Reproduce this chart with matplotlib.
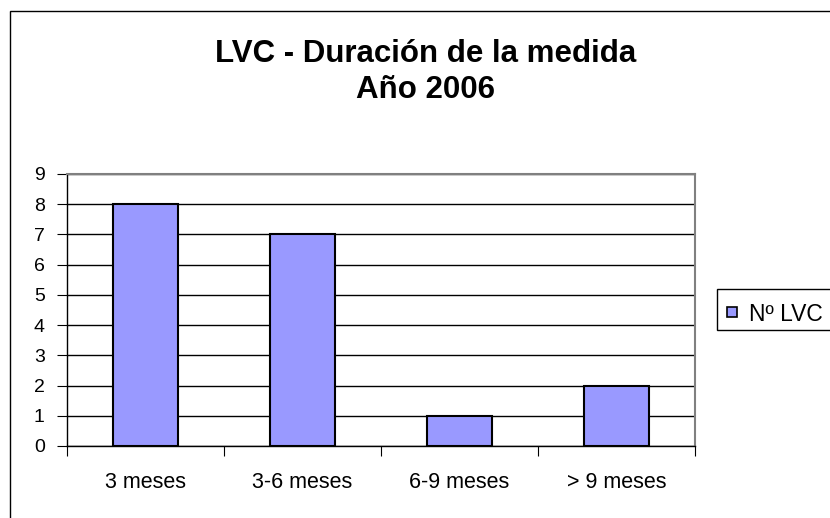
import matplotlib
matplotlib.use("Agg")
import matplotlib.pyplot as plt
from matplotlib.patches import Rectangle

categories = ["3 meses", "3-6 meses", "6-9 meses", "> 9 meses"]
values = [8, 7, 1, 2]
yticks = list(range(0, 10))
series_name = "Nº LVC"
title_lines = ["LVC - Duración de la medida", "Año 2006"]

plt.rcParams['font.family'] = ['Liberation Sans', 'DejaVu Sans']

W, H = 830, 518
fig = plt.figure(figsize=(W / 100, H / 100), dpi=100)
fig.patch.set_facecolor('white')

def fx(px):
    return px / W

def fy(py):
    return 1 - py / H

# outer chart frame
fig.patches.append(Rectangle((fx(10), -0.1), 2, fy(11) + 0.1, transform=fig.transFigure,
                             fill=False, edgecolor='black', linewidth=1.0))

ax = fig.add_axes([fx(67), fy(446), 628 / W, 272 / H])
x = list(range(len(categories)))
bars = ax.bar(x, values, width=0.41, color='#9999FF', edgecolor='black', linewidth=1.5,
              label=series_name, zorder=3)
ax.set_xlim(-0.5, len(categories) - 0.5)
ax.set_ylim(0, 9)
ax.set_yticks(yticks)
ax.set_yticklabels([str(t) for t in yticks], fontsize=14)
ax.yaxis.grid(True, color='black', linewidth=1.0, zorder=0)
ax.set_axisbelow(True)

ax.set_xticks([i - 0.5 for i in range(len(categories) + 1)])
ax.set_xticklabels([])
ax.set_xticks(x, minor=True)
ax.set_xticklabels(categories, minor=True, fontsize=15.5)
ax.tick_params(axis='x', which='minor', length=0, pad=19)
ax.tick_params(axis='x', which='major', length=7, direction='out', color='black')
ax.tick_params(axis='y', length=7, direction='out', color='black', pad=9)

for s in ['top', 'right']:
    ax.spines[s].set_color('#808080')
    ax.spines[s].set_linewidth(1.5)
for s in ['left', 'bottom']:
    ax.spines[s].set_color('black')
    ax.spines[s].set_linewidth(1.0)

# title (two lines)
fig.text(fx(425.5), fy(62), title_lines[0], ha='center', va='baseline', fontsize=22.5,
         fontweight='bold')
fig.text(fx(425.5), fy(98), title_lines[1], ha='center', va='baseline', fontsize=22.5,
         fontweight='bold')

# legend (Excel-style box)
fig.patches.append(Rectangle((fx(717), fy(330)), fx(200), (330 - 289) / H,
                             transform=fig.transFigure, fill=True, facecolor='white',
                             edgecolor='black', linewidth=1.0))
fig.patches.append(Rectangle((fx(727), fy(317)), fx(10), 10 / H,
                             transform=fig.transFigure, facecolor=bars.patches[0].get_facecolor(),
                             edgecolor='black', linewidth=1.2))
fig.text(fx(749), fy(312), series_name, ha='left', va='center_baseline', fontsize=16.5)

fig.savefig("out.png", dpi=100)
